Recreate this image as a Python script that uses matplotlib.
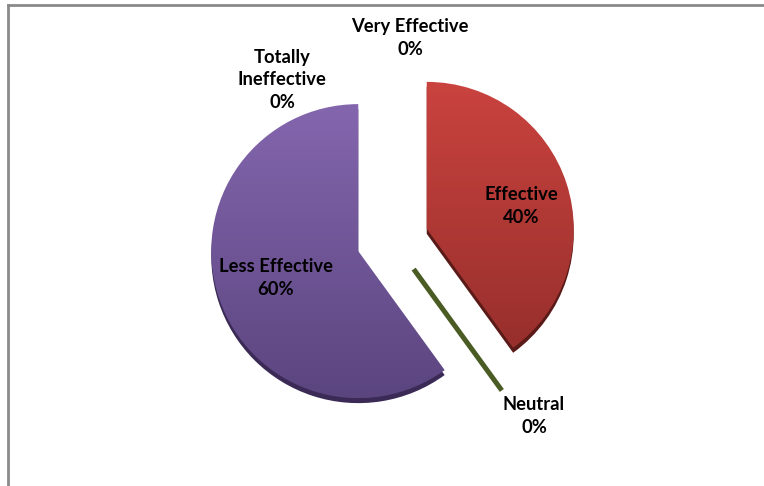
import numpy as np
import matplotlib
matplotlib.use("Agg")
import matplotlib.pyplot as plt
from matplotlib.colors import LinearSegmentedColormap
from matplotlib.patches import Wedge

# ---- data ----
categories = ["Very Effective", "Effective", "Neutral", "Less Effective", "Totally Ineffective"]
display_names = ["Very Effective", "Effective", "Neutral", "Less Effective", "Totally\nIneffective"]
values = [0, 40, 0, 60, 0]

# ---- style ----
top_colors = ["#4F81BD", "#CA433F", "#9BBB59", "#8466AE", "#4BACC6"]
bot_colors = ["#3A6190", "#922D2A", "#6E8A3A", "#5B457F", "#357F93"]
side_colors = ["#2C4A6E", "#5A1A18", "#4A5C24", "#3A2A55", "#2A6070"]
explode_px = 36
radius = 147
W, H = 764, 486
center = (392.5, H - 240)
depth = 5

fig = plt.figure(figsize=(W / 100, H / 100), dpi=100)
ax = fig.add_axes([0, 0, 1, 1])
ax.set_xlim(0, W)
ax.set_ylim(0, H)
ax.set_aspect("equal")
ax.axis("off")

total = sum(values)
start = 90.0
label_pos = {
    "Very Effective": (410, 38),
    "Effective": (521, 206),
    "Neutral": (534, 416),
    "Less Effective": (276, 278),
    "Totally Ineffective": (282, 80),
}

for i, (cat, v) in enumerate(zip(categories, values)):
    span = 360.0 * v / total
    t2 = start
    t1 = start - span
    mid = np.deg2rad((t1 + t2) / 2)
    cx = center[0] + explode_px * np.cos(mid)
    cy = center[1] + explode_px * np.sin(mid)
    if v > 0:
        side = Wedge((cx, cy - depth), radius, t1, t2, facecolor=side_colors[i],
                     edgecolor="none", zorder=1)
        ax.add_patch(side)
        face = Wedge((cx, cy), radius, t1, t2, facecolor="none", edgecolor="none", zorder=2)
        ax.add_patch(face)
        cmap = LinearSegmentedColormap.from_list("g%d" % i, [bot_colors[i], top_colors[i]])
        grad = np.linspace(0, 1, 256).reshape(-1, 1)
        im = ax.imshow(grad, cmap=cmap, origin="lower", aspect="auto",
                       extent=(cx - radius, cx + radius, cy - radius, cy + radius), zorder=2)
        im.set_clip_path(face)
    elif cat == "Neutral":
        ang = np.deg2rad(t2)
        ax.plot([cx, cx + (radius + 3) * np.cos(ang)], [cy, cy + (radius + 3) * np.sin(ang)],
                color=side_colors[i], lw=3.6, solid_capstyle="butt", zorder=2)
    start = t1
    lx, ly = label_pos[cat]
    ax.text(lx, H - ly, f"{display_names[i]}\n{v}%", ha="center", va="center",
            fontsize=13.2, fontweight="bold", family="Lato", color="black",
            linespacing=1.42, zorder=5)

ax.set_xlim(0, W)
ax.set_ylim(0, H)

fig.add_artist(plt.Line2D([7.5 / W, 1], [1 - 5 / H, 1 - 5 / H], color="#8A8A8A", lw=2))
fig.add_artist(plt.Line2D([7.5 / W, 7.5 / W], [0, 1 - 5 / H], color="#8A8A8A", lw=2))

fig.savefig("out.png", dpi=100)
